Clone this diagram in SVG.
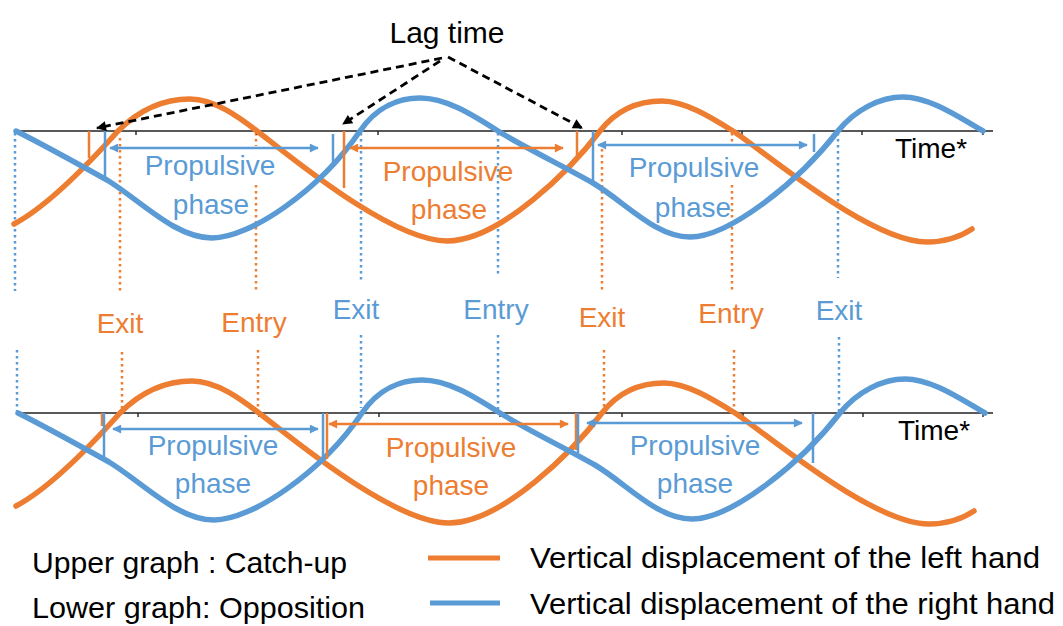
<svg xmlns="http://www.w3.org/2000/svg" width="1063" height="626" viewBox="0 0 1063 626">
<style>
text{font-family:"Liberation Sans",Arial,sans-serif}
.o{fill:#ED7D31}.b{fill:#5B9BD5}.k{fill:#000}
.lbl{font-size:28px;text-anchor:middle}
.leg{font-size:30px}
.axis{stroke:#222;stroke-width:1.6;fill:none}
.tick{stroke:#222;stroke-width:1.4}
.cO{stroke:#ED7D31;stroke-width:5.5;fill:none;stroke-linecap:round}
.cB{stroke:#5B9BD5;stroke-width:5.5;fill:none;stroke-linecap:round}
.dO{stroke:#ED7D31;stroke-width:2.5;stroke-dasharray:2.5 3.5;fill:none}
.dB{stroke:#5B9BD5;stroke-width:2.5;stroke-dasharray:2.5 3.5;fill:none}
.vO{stroke:#ED7D31;stroke-width:2.5}
.vB{stroke:#5B9BD5;stroke-width:2.5}
.aO{stroke:#ED7D31;stroke-width:2.5;marker-start:url(#mO);marker-end:url(#mO)}
.aB{stroke:#5B9BD5;stroke-width:2.5;marker-start:url(#mB);marker-end:url(#mB)}
.lag{stroke:#000;stroke-width:2.8;stroke-dasharray:8 5;fill:none;marker-end:url(#mK)}
</style>
<defs>
<marker id="mO" viewBox="0 0 10 10" refX="9" refY="5" markerWidth="11" markerHeight="9" markerUnits="userSpaceOnUse" orient="auto-start-reverse"><path d="M0,0 L10,5 L0,10 z" fill="#ED7D31"/></marker>
<marker id="mB" viewBox="0 0 10 10" refX="9" refY="5" markerWidth="11" markerHeight="9" markerUnits="userSpaceOnUse" orient="auto-start-reverse"><path d="M0,0 L10,5 L0,10 z" fill="#5B9BD5"/></marker>
<marker id="mK" viewBox="0 0 10 10" refX="9" refY="5" markerWidth="12" markerHeight="10" markerUnits="userSpaceOnUse" orient="auto"><path d="M0,0 L10,5 L0,10 z" fill="#000"/></marker>
<path id="curveLeft" d="M14,224 C50,205 92,160 118,131 C140,109 165,99 190,99 C215,99 240,118 257,131 C285,152 390,241 447,241 C500,241 572,168 600,131 C618,108 640,101 662,101 C685,101 712,118 733,131 C765,152 870,242 927,242 C945,242 960,237 972,229"/>
<path id="curveRight" d="M16,131 C40,143 80,165 107,180 C140,200 175,238 212,238 C250,238 320,190 360,131 C377,106 400,98 420,98 C445,98 470,113 498,131 C520,145 565,167 593,183 C625,202 655,237 690,237 C730,237 800,180 838,131 C855,110 880,97 903,97 C930,97 960,118 983,131"/>
</defs>
<rect width="1063" height="626" fill="#fff"/>

<g id="guides">
<line class="dB" x1="15" y1="133" x2="15" y2="291"/>
<line class="dO" x1="120" y1="138" x2="120" y2="292"/>
<line class="dO" x1="256" y1="133" x2="256" y2="146"/>
<line class="dO" x1="256" y1="185" x2="256" y2="290"/>
<line class="dB" x1="361" y1="133" x2="361" y2="280"/>
<line class="dB" x1="498" y1="133" x2="498" y2="277"/>
<line class="dO" x1="602" y1="143" x2="602" y2="292"/>
<line class="dO" x1="732" y1="133" x2="732" y2="146"/>
<line class="dO" x1="732" y1="185" x2="732" y2="290"/>
<line class="dB" x1="838" y1="133" x2="838" y2="278"/>
<line class="dB" x1="17" y1="350" x2="17" y2="411"/>
<line class="dO" x1="122" y1="352" x2="122" y2="411"/>
<line class="dO" x1="258" y1="350" x2="258" y2="411"/>
<line class="dB" x1="361" y1="335" x2="361" y2="408"/>
<line class="dB" x1="498" y1="335" x2="498" y2="411"/>
<line class="dO" x1="604" y1="350" x2="604" y2="411"/>
<line class="dO" x1="734" y1="350" x2="734" y2="411"/>
<line class="dB" x1="839" y1="337" x2="839" y2="411"/>
</g>

<g id="upper-graph">
<line class="axis" x1="14" y1="131" x2="993" y2="131"/>
<path class="tick" d="M136,131v4M257,131v4M378,131v4M500,131v4M622,131v4M742,131v4M862,131v4M983,131v4"/>
<use href="#curveLeft" class="cO"/>
<use href="#curveRight" class="cB"/>
<line class="vO" x1="89" y1="131" x2="89" y2="158"/>
<line class="vB" x1="105" y1="131" x2="105" y2="178"/>
<line class="vB" x1="333" y1="134" x2="333" y2="165"/>
<line class="vO" x1="344" y1="131" x2="344" y2="188"/>
<line class="vO" x1="577" y1="131" x2="577" y2="158"/>
<line class="vB" x1="593" y1="131" x2="593" y2="182"/>
<line class="vB" x1="814" y1="134" x2="814" y2="152"/>
<text class="k lbl" x="931" y="158">Time*</text>
</g>

<g id="lower-graph">
<line class="axis" x1="17" y1="413" x2="993" y2="413"/>
<path class="tick" d="M138,413v4M259,413v4M379,413v4M500,413v4M622,413v4M743,413v4M863,413v4M983,413v4"/>
<use href="#curveLeft" class="cO" transform="translate(2,282)"/>
<use href="#curveRight" class="cB" transform="translate(2,282)"/>
<line class="vO" x1="102" y1="413" x2="102" y2="426"/>
<line class="vB" x1="104" y1="413" x2="104" y2="459"/>
<line class="vB" x1="323" y1="413" x2="323" y2="458"/>
<line class="vO" x1="327" y1="413" x2="327" y2="459"/>
<line class="vO" x1="576" y1="413" x2="576" y2="450"/>
<line class="vB" x1="578" y1="413" x2="578" y2="453"/>
<line class="vB" x1="813" y1="413" x2="813" y2="463"/>
<text class="k lbl" x="934" y="440">Time*</text>
</g>

<g id="connectors">
<line class="aB" x1="110" y1="148" x2="318" y2="148"/>
<line class="aO" x1="350" y1="148" x2="563" y2="148"/>
<line class="aB" x1="598" y1="145" x2="807" y2="145"/>
<line class="aB" x1="113" y1="429" x2="318" y2="429"/>
<line class="aO" x1="329" y1="424" x2="568" y2="424"/>
<line class="aB" x1="587" y1="423" x2="802" y2="423"/>
<line class="lag" x1="442" y1="58" x2="97" y2="128"/>
<line class="lag" x1="440" y1="61" x2="343" y2="124"/>
<line class="lag" x1="448" y1="57" x2="582" y2="128"/>
</g>

<g id="lag-label"><text class="k lbl" x="447" y="43" font-size="30" style="font-size:30px">Lag time</text></g>

<g id="phase-labels">
<text class="b lbl" x="210" y="175">Propulsive</text><text class="b lbl" x="211" y="214">phase</text>
<text class="o lbl" x="448" y="181">Propulsive</text><text class="o lbl" x="449" y="219">phase</text>
<text class="b lbl" x="694" y="177">Propulsive</text><text class="b lbl" x="693" y="217">phase</text>
<text class="b lbl" x="213" y="455">Propulsive</text><text class="b lbl" x="213" y="493">phase</text>
<text class="o lbl" x="451" y="457">Propulsive</text><text class="o lbl" x="451" y="495">phase</text>
<text class="b lbl" x="695" y="455">Propulsive</text><text class="b lbl" x="695" y="493">phase</text>
</g>

<g id="event-labels">
<text class="o lbl" x="120" y="333">Exit</text>
<text class="o lbl" x="254" y="332">Entry</text>
<text class="b lbl" x="356" y="319">Exit</text>
<text class="b lbl" x="496" y="319">Entry</text>
<text class="o lbl" x="602" y="327">Exit</text>
<text class="o lbl" x="731" y="323">Entry</text>
<text class="b lbl" x="839" y="320">Exit</text>
</g>

<g id="legend">
<text class="k leg" x="32" y="573" textLength="315" lengthAdjust="spacingAndGlyphs">Upper graph : Catch-up</text>
<text class="k leg" x="32" y="618" textLength="333" lengthAdjust="spacingAndGlyphs">Lower graph: Opposition</text>
<line x1="428" y1="558" x2="500" y2="558" stroke="#ED7D31" stroke-width="5"/>
<line x1="430" y1="603" x2="500" y2="603" stroke="#5B9BD5" stroke-width="5"/>
<text class="k leg" x="530" y="568" textLength="510" lengthAdjust="spacingAndGlyphs">Vertical displacement of the left hand</text>
<text class="k leg" x="530" y="614" textLength="525" lengthAdjust="spacingAndGlyphs">Vertical displacement of the right hand</text>
</g>
</svg>
